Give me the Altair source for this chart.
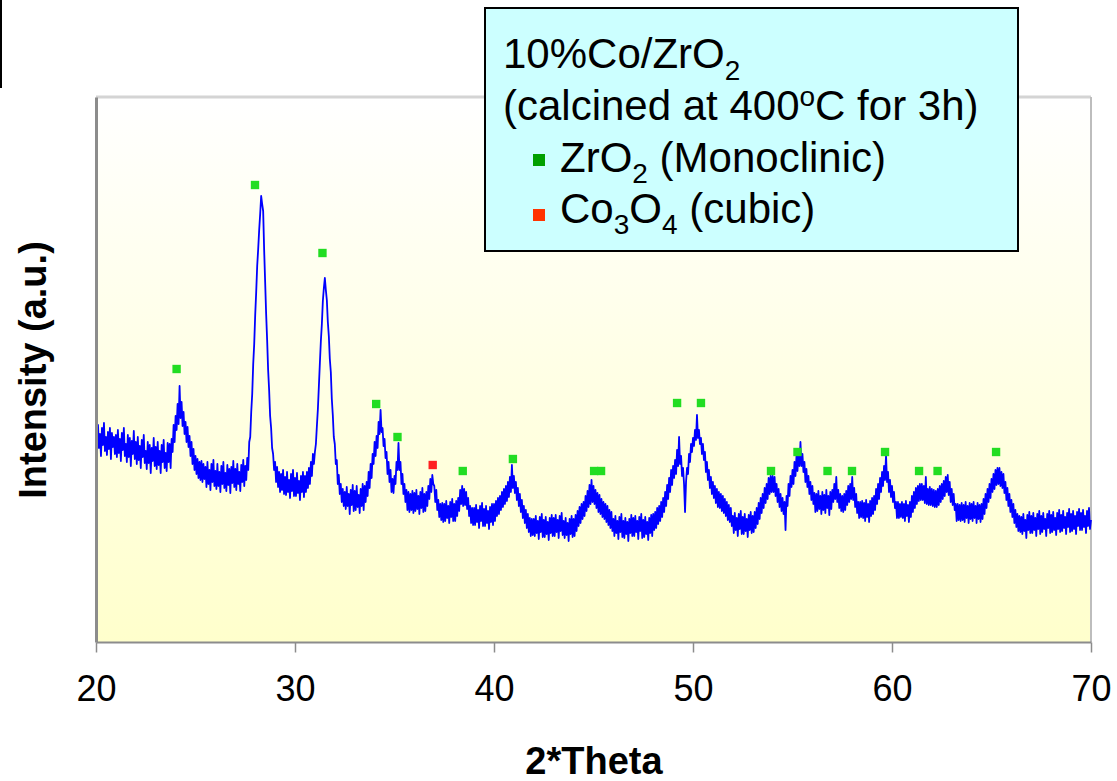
import altair as alt
import pandas as pd

FONT = "Liberation Sans"

# 2*Theta sampling grid (0.05 degree steps) and intensity (a.u.)
two_theta = [round(20 + i * 0.05, 2) for i in range(1001)]
intensity = [
    # 20.0 - 24.95
    212, 190, 217, 194, 208, 186, 214, 197, 219, 191,
    205, 187, 210, 193, 214, 183, 209, 195, 205, 188,
    207, 185, 212, 189, 203, 181, 209, 192, 214, 186,
    198, 180, 207, 185, 204, 176, 201, 188, 211, 183,
    200, 178, 205, 182, 196, 174, 202, 185, 207, 179,
    191, 173, 200, 179, 197, 169, 194, 181, 204, 176,
    195, 173, 200, 177, 191, 169, 197, 180, 202, 174,
    189, 171, 199, 180, 198, 174, 203, 190, 217, 200,
    226, 212, 238, 218, 256, 224, 240, 216, 230, 208,
    220, 200, 215, 195, 206, 186, 200, 178, 193, 172,
    # 25.0 - 29.95
    186, 168, 183, 164, 180, 162, 181, 160, 178, 163,
    175, 155, 180, 158, 172, 152, 178, 160, 182, 156,
    171, 153, 178, 156, 170, 150, 176, 158, 180, 154,
    169, 151, 177, 157, 173, 149, 175, 159, 181, 155,
    173, 152, 178, 158, 170, 151, 177, 160, 182, 156,
    176, 162, 184, 172, 200, 205, 230, 248, 278, 298,
    327, 350, 376, 393, 412, 428, 446, 438, 431, 392,
    360, 328, 302, 272, 252, 226, 214, 194, 188, 172,
    180, 160, 175, 155, 170, 150, 168, 152, 172, 148,
    165, 147, 170, 150, 162, 144, 168, 151, 172, 146,
    # 30.0 - 34.95
    164, 146, 169, 149, 161, 142, 166, 150, 170, 145,
    166, 150, 170, 154, 174, 158, 180, 166, 188, 178,
    190, 198, 216, 233, 256, 279, 301, 318, 341, 354,
    364, 352, 342, 320, 306, 283, 270, 243, 227, 205,
    198, 178, 182, 158, 167, 148, 158, 140, 153, 136,
    150, 133, 155, 136, 148, 128, 152, 137, 157, 131,
    151, 132, 156, 135, 147, 129, 153, 136, 158, 132,
    156, 140, 160, 146, 170, 154, 178, 164, 188, 178,
    200, 186, 206, 194, 220, 208, 232, 210, 214, 196,
    203, 184, 190, 168, 180, 160, 172, 150, 163, 149,
    # 35.0 - 39.95
    166, 158, 180, 172, 199, 172, 180, 158, 168, 148,
    158, 140, 152, 132, 150, 130, 148, 132, 151, 129,
    149, 131, 152, 133, 146, 128, 150, 134, 154, 130,
    148, 131, 150, 136, 156, 143, 163, 150, 167, 158,
    156, 140, 152, 132, 142, 125, 138, 122, 139, 120,
    138, 121, 141, 124, 136, 119, 140, 125, 143, 121,
    138, 121, 141, 126, 144, 131, 152, 138, 156, 136,
    153, 137, 150, 133, 144, 126, 136, 119, 134, 117,
    134, 117, 137, 120, 132, 114, 136, 121, 139, 116,
    133, 116, 136, 119, 131, 113, 135, 120, 138, 117,
    # 40.0 - 44.95
    138, 121, 141, 126, 144, 128, 146, 132, 150, 135,
    153, 138, 156, 141, 160, 145, 165, 150, 177, 154,
    166, 149, 160, 142, 154, 136, 148, 130, 142, 124,
    136, 119, 132, 114, 128, 110, 124, 106, 123, 107,
    123, 106, 126, 109, 121, 103, 125, 110, 128, 105,
    122, 105, 125, 108, 120, 102, 124, 109, 127, 106,
    124, 106, 127, 110, 122, 104, 126, 111, 129, 107,
    121, 104, 124, 107, 119, 101, 123, 108, 126, 105,
    123, 106, 127, 111, 131, 116, 135, 119, 138, 123,
    140, 126, 146, 131, 151, 135, 157, 138, 162, 140,
    # 45.0 - 49.95
    156, 138, 152, 134, 149, 130, 147, 128, 143, 125,
    140, 123, 138, 120, 136, 117, 132, 114, 130, 111,
    123, 106, 126, 109, 121, 103, 125, 110, 128, 105,
    121, 104, 124, 108, 120, 101, 123, 109, 127, 106,
    124, 106, 126, 110, 121, 103, 125, 111, 128, 104,
    122, 105, 125, 108, 120, 102, 124, 109, 127, 106,
    128, 112, 130, 114, 134, 118, 136, 121, 140, 125,
    144, 130, 150, 136, 157, 143, 164, 150, 172, 157,
    176, 164, 182, 168, 192, 176, 205, 178, 186, 166,
    174, 158, 130, 160, 174, 168, 188, 180, 198, 190,
    # 50.0 - 54.95
    204, 196, 212, 202, 227, 204, 212, 198, 204, 188,
    198, 182, 190, 170, 180, 162, 172, 154, 165, 148,
    160, 144, 156, 139, 153, 135, 150, 134, 148, 131,
    146, 129, 143, 126, 140, 122, 137, 120, 134, 116,
    126, 109, 129, 112, 124, 106, 128, 113, 131, 108,
    125, 108, 128, 111, 123, 105, 127, 112, 130, 109,
    126, 110, 130, 114, 134, 118, 139, 123, 144, 129,
    148, 134, 154, 139, 158, 143, 164, 148, 166, 150,
    166, 150, 165, 146, 158, 140, 153, 135, 148, 131,
    144, 128, 140, 112, 146, 136, 158, 146, 166, 155,
    # 55.0 - 59.95
    172, 158, 180, 166, 186, 171, 190, 176, 200, 176,
    188, 170, 180, 160, 173, 155, 166, 148, 160, 142,
    156, 138, 149, 130, 148, 131, 151, 133, 146, 128,
    150, 132, 147, 129, 152, 134, 146, 127, 150, 133,
    152, 140, 158, 143, 165, 140, 152, 134, 148, 131,
    146, 130, 148, 132, 151, 137, 156, 140, 158, 143,
    165, 142, 154, 135, 148, 129, 140, 124, 140, 125,
    141, 124, 139, 121, 142, 125, 138, 120, 141, 126,
    144, 128, 146, 132, 153, 138, 158, 143, 164, 150,
    170, 156, 176, 162, 187, 160, 170, 150, 162, 145,
    # 60.0 - 64.95
    156, 140, 150, 134, 140, 124, 140, 124, 138, 125,
    140, 124, 138, 121, 141, 126, 137, 120, 140, 125,
    146, 130, 150, 134, 154, 138, 156, 141, 158, 142,
    158, 142, 156, 139, 165, 138, 153, 137, 155, 137,
    153, 136, 152, 135, 151, 135, 153, 137, 156, 140,
    158, 143, 161, 146, 165, 150, 167, 147, 160, 140,
    153, 137, 148, 132, 138, 121, 138, 122, 137, 121,
    139, 122, 137, 120, 140, 124, 136, 119, 139, 123,
    138, 121, 140, 124, 136, 119, 139, 123, 137, 120,
    138, 123, 143, 128, 148, 134, 153, 140, 158, 144,
    # 65.0 - 70.0
    163, 150, 168, 153, 172, 157, 174, 158, 174, 156,
    170, 154, 168, 149, 160, 142, 154, 136, 148, 130,
    142, 125, 138, 119, 132, 115, 128, 111, 126, 110,
    125, 108, 128, 111, 122, 104, 127, 112, 130, 109,
    126, 109, 129, 112, 124, 106, 128, 113, 131, 108,
    126, 110, 129, 113, 123, 106, 128, 114, 131, 109,
    127, 110, 130, 112, 124, 107, 129, 113, 132, 110,
    127, 111, 131, 114, 125, 108, 129, 115, 133, 110,
    128, 111, 131, 113, 126, 108, 130, 116, 133, 112,
    129, 112, 132, 115, 126, 109, 131, 116, 134, 113,
    122,
]

# Phase markers
zro2_x = [24.05, 27.99, 31.38, 34.08, 35.15, 38.43, 40.95, 45.03, 45.38, 49.2,
          50.4, 53.92, 55.25, 56.76, 57.99, 59.65, 61.36, 62.29, 65.23]
zro2_y = [273, 457, 389, 238, 205, 171, 183, 171, 171, 239,
          239, 171, 190, 171, 171, 190, 171, 171, 190]
co3o4_x = [36.92]
co3o4_y = [177]

x_ticks = [20, 30, 40, 50, 60, 70]

W, H = 995, 545
X0, Y0 = 96, 97

df = pd.DataFrame({"two_theta": two_theta, "intensity": intensity})
zdf = pd.DataFrame({"two_theta": zro2_x, "intensity": zro2_y})
cdf = pd.DataFrame({"two_theta": co3o4_x, "intensity": co3o4_y})
one = pd.DataFrame({"k": [0]})

xscale = alt.Scale(domain=[20, 70], nice=False, zero=False)
yscale = alt.Scale(domain=[0, 545], nice=False, zero=False)

gradient = alt.LinearGradient(
    gradient="linear",
    stops=[alt.GradientStop(color="#FFFFFF", offset=0),
           alt.GradientStop(color="#FFFFCC", offset=1)],
    x1=0, x2=0, y1=0, y2=1,
)

bg = alt.Chart(one).mark_rect(color=gradient).encode(
    x=alt.value(0), x2=alt.value(W), y=alt.value(0), y2=alt.value(H)
)
top_border = alt.Chart(one).mark_rule(color="#D4D4D4", strokeWidth=3).encode(
    x=alt.value(0), x2=alt.value(W), y=alt.value(0)
)
right_border = alt.Chart(one).mark_rule(color="#BDBDBD", strokeWidth=2).encode(
    x=alt.value(W), y=alt.value(0), y2=alt.value(H)
)

line = alt.Chart(df).mark_line(color="#0000FF", strokeWidth=1.8, strokeJoin="round").encode(
    x=alt.X("two_theta:Q", scale=xscale, axis=alt.Axis(
        values=x_ticks, title="2*Theta", grid=False,
        labelFontSize=36, labelFont=FONT, labelColor="black",
        labelBaseline="alphabetic", labelPadding=48, labelFlush=False,
        tickSize=10, tickColor="#8C8C8C", tickWidth=1.5,
        domainColor="#8C8C8C", domainWidth=2,
        titleFontSize=38, titleFont=FONT, titleFontWeight="bold", titleColor="black",
        titleX=W / 2, titleY=131, titleBaseline="alphabetic", zindex=1)),
    y=alt.Y("intensity:Q", scale=yscale, axis=alt.Axis(
        labels=False, ticks=False, grid=False,
        domainColor="#8C8C8C", domainWidth=3,
        title="Intensity (a.u.)", titleFontSize=38, titleFont=FONT,
        titleFontWeight="bold", titleColor="black", titleAngle=270,
        titleBaseline="alphabetic", titleX=-51, titleY=H / 2, titleAlign="center",
        zindex=1)),
)

green_pts = alt.Chart(zdf).mark_point(shape="square", filled=True, size=70,
                                      color="#22DD22", opacity=1).encode(
    x=alt.X("two_theta:Q", scale=xscale), y=alt.Y("intensity:Q", scale=yscale))
red_pts = alt.Chart(cdf).mark_point(shape="square", filled=True, size=70,
                                    color="#FF2020", opacity=1).encode(
    x=alt.X("two_theta:Q", scale=xscale), y=alt.Y("intensity:Q", scale=yscale))

box = alt.Chart(one).mark_rect(fill="#CCFFFF", stroke="black", strokeWidth=2).encode(
    x=alt.value(485 - X0), x2=alt.value(1018 - X0),
    y=alt.value(8 - Y0), y2=alt.value(251 - Y0))


def label(txt, px, py, size=42):
    return alt.Chart(one).mark_text(text=txt, align="left", baseline="alphabetic",
                                    fontSize=size, font=FONT, color="black").encode(
        x=alt.value(px - X0), y=alt.value(py - Y0))


def square(px, py, col):
    return alt.Chart(one).mark_rect(color=col).encode(
        x=alt.value(px - 6 - X0), x2=alt.value(px + 6 - X0),
        y=alt.value(py - 6 - Y0), y2=alt.value(py + 6 - Y0))


texts = [
    label("10%Co/ZrO", 503, 68), label("2", 724.7, 80, 28),
    label("(calcined at 400", 503, 120), label("o", 799.5, 106, 28),
    label("C for 3h)", 815.1, 120),
    square(539, 160, "#00A000"),
    label("ZrO", 560, 172), label("2", 632.3, 183, 28), label("(Monoclinic)", 659.6, 172),
    square(539, 215, "#FF3300"),
    label("Co", 560, 223), label("3", 613.7, 234, 28), label("O", 629.3, 223),
    label("4", 662, 234, 28), label("(cubic)", 689.3, 223),
]

corner = alt.Chart(one).mark_rule(color="black", strokeWidth=2).encode(
    x=alt.value(1 - X0), y=alt.value(0 - Y0), y2=alt.value(88 - Y0))

chart = alt.layer(
    bg, top_border, right_border, line, green_pts, red_pts, box, *texts, corner
).properties(
    width=W, height=H,
    padding={"left": X0, "top": Y0, "right": 1117 - X0 - W, "bottom": 781 - Y0 - H},
    autosize=alt.AutoSizeParams(type="none"),
).configure(background="white").configure_view(strokeWidth=0)

chart.save("out.html", embed_options={"renderer": "svg", "actions": False})
